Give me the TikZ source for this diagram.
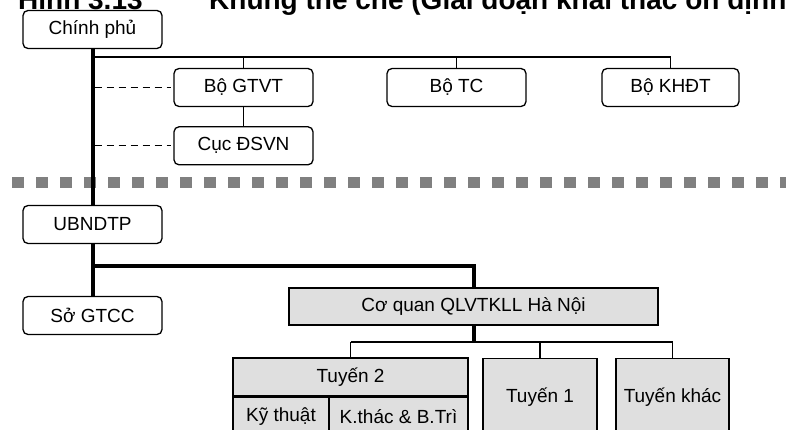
\documentclass[tikz,border=0pt]{standalone}
\usepackage{fontspec}
\setmainfont{Liberation Sans}
\usetikzlibrary{positioning}

\begin{document}
\begin{tikzpicture}[
  x=1pt, y=-1pt,
  box/.style={rectangle, draw, rounded corners=5pt, line width=1.3pt,
    minimum width=139pt, minimum height=38pt, inner sep=0pt, align=center,
    font=\fontsize{19}{22}\selectfont},
  cell/.style={rectangle, draw, line width=1.3pt, fill=gray!25, inner sep=0pt,
    align=center, font=\fontsize{19}{22}\selectfont},
  thin/.style={line width=1.3pt},
  trunk/.style={line width=4pt},
  dashline/.style={line width=1.3pt, dash pattern=on 7pt off 5pt},
  sep/.style={line width=11pt, gray, dash pattern=on 12pt off 12pt},
  title/.style={font=\fontsize{28}{32}\selectfont\bfseries, inner sep=0pt,
    anchor=base west}
]
\useasboundingbox (0,0) rectangle (786,430);
\clip (0,0) rectangle (786,430);

% caption, cut by the page edge
\node[title] (fignum) at (18,10) {Hình 3.13};
\node[title] (figtitle) at (209,10) {Khung thể chế (Giai đoạn khai thác ổn định)};

% central level
\node[box] (chinhphu) at (92.5,29.5) {Chính phủ};
\node[box] (bogtvt) at (243.5,87.5) {Bộ GTVT};
\node[box, below=19pt of bogtvt] (cucdsvn) {Cục ĐSVN};
\node[box] (botc) at (456.5,87.5) {Bộ TC};
\node[box, minimum width=137pt] (bokhdt) at (670.5,87.5) {Bộ KHĐT};

% local level
\node[box] (ubndtp) at (92.5,224.5) {UBNDTP};
\node[box] (sogtcc) at (92.5,315.5) {Sở GTCC};
\node[cell, minimum width=369pt, minimum height=37pt] (coquan) at (473.5,306.5)
  {Cơ quan QLVTKLL Hà Nội};
\node[cell, minimum width=235pt, minimum height=38pt] (tuyen2) at (350.5,377) {Tuyến 2};
\node[cell, minimum width=96pt, minimum height=38pt, anchor=north west] (kythuat)
  at (tuyen2.south west) {Kỹ thuật};
\node[cell, minimum width=139pt, minimum height=38pt, anchor=north east] (khaithac)
  at (tuyen2.south east) {K.thác \& B.Trì};
\node[cell, minimum width=114pt, minimum height=78pt, anchor=north] (tuyen1) at (540,358) {Tuyến 1};
\node[cell, minimum width=113pt, minimum height=78pt, anchor=north] (tuyenkhac) at (672.5,358) {Tuyến khác};

% separator between the two levels
\draw[sep] (12,182.5) -- (786,182.5);

% links
\coordinate (bus) at (92.5,57);
\draw[thin] (bus) -| (bokhdt.north);
\draw[thin] (bogtvt.north |- bus) -- (bogtvt.north);
\draw[thin] (botc.north |- bus) -- (botc.north);
\draw[thin] (bogtvt) -- (cucdsvn);
\draw[trunk] (chinhphu.south) -- (ubndtp.north);
\draw[trunk] (ubndtp.south) -- (sogtcc.north);
\draw[dashline] ([xshift=2pt]chinhphu.south |- bogtvt.west) -- ([xshift=-2pt]bogtvt.west);
\draw[dashline] ([xshift=2pt]chinhphu.south |- cucdsvn.west) -- ([xshift=-2pt]cucdsvn.west);

\coordinate (branch) at (92.5,266);
\draw[trunk] (branch) -| (coquan.north);
\coordinate (split) at (473.5,342);
\draw[trunk] (coquan.south) -- (split);
\draw[thin] (tuyen2.north |- split) -- (tuyenkhac.north |- split);
\draw[thin] (tuyen2.north |- split) -- (tuyen2.north);
\draw[thin] (tuyen1.north |- split) -- (tuyen1.north);
\draw[thin] (tuyenkhac.north |- split) -- (tuyenkhac.north);
\end{tikzpicture}
\end{document}
